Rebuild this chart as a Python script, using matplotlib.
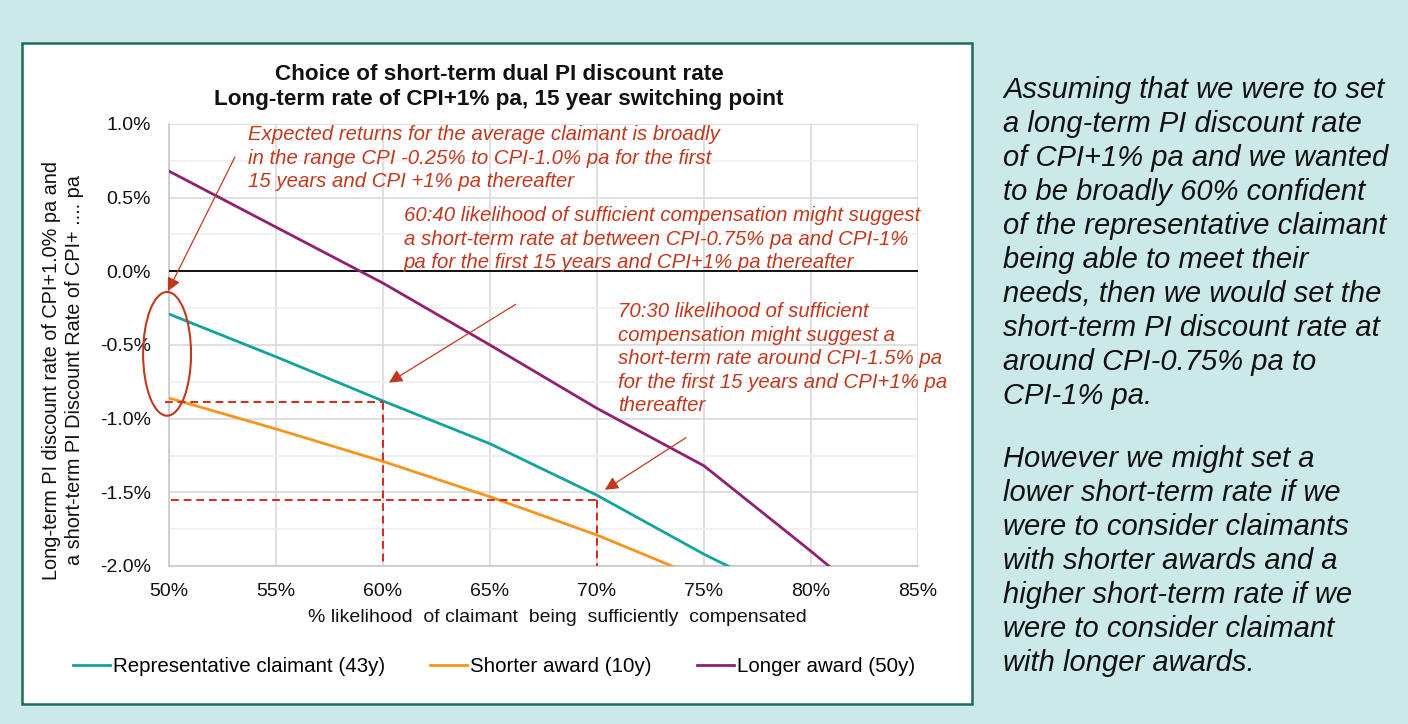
import matplotlib
matplotlib.use("Agg")
import matplotlib.pyplot as plt
from matplotlib.patches import Ellipse, Rectangle
from matplotlib.ticker import MultipleLocator, FuncFormatter

plt.rcParams['font.family'] = ['Liberation Sans', 'DejaVu Sans']

# likelihood grid (%), each series runs until it drops off the bottom of the chart
likelihood = [50, 55, 60, 65, 70, 75, 80, 85]
representative = [-0.29, -0.58, -0.88, -1.17, -1.52, -1.92, -2.28]
shorter = [-0.86, -1.07, -1.29, -1.53, -1.79, -2.09]
longer = [0.68, 0.30, -0.08, -0.50, -0.93, -1.32, -1.90, -2.50]

series_labels = ["Representative claimant (43y)", "Shorter award (10y)", "Longer award (50y)"]
series_colors = ["#14a39a", "#f7941d", "#8e2170"]

# red guide lines (60:40 and 70:30 points)
guide_60 = {"x0": 49.8, "x": 60, "y": -0.89}
guide_70 = {"x0": 50.1, "x": 70, "y": -1.55}

title = "Choice of short-term dual PI discount rate\nLong-term rate of CPI+1% pa, 15 year switching point"
ylabel = "Long-term PI discount rate of CPI+1.0% pa and\na short-term PI Discount Rate of CPI+ .... pa"
xlabel = "% likelihood  of claimant  being  sufficiently  compensated"

note_1 = ("Expected returns for the average claimant is broadly\n"
          "in the range CPI -0.25% to CPI-1.0% pa for the first\n"
          "15 years and CPI +1% pa thereafter")
note_2 = ("60:40 likelihood of sufficient compensation might suggest\n"
          "a short-term rate at between CPI-0.75% pa and CPI-1%\n"
          "pa for the first 15 years and CPI+1% pa thereafter")
note_3 = ("70:30 likelihood of sufficient\n"
          "compensation might suggest a\n"
          "short-term rate around CPI-1.5% pa\n"
          "for the first 15 years and CPI+1% pa\n"
          "thereafter")

side_para_1 = ["Assuming that we were to set", "a long-term PI discount rate",
               "of CPI+1% pa and we wanted", "to be broadly 60% confident",
               "of the representative claimant", "being able to meet their",
               "needs, then we would set the", "short-term PI discount rate at",
               "around CPI-0.75% pa to", "CPI-1% pa."]
side_para_2 = ["However we might set a", "lower short-term rate if we",
               "were to consider claimants", "with shorter awards and a",
               "higher short-term rate if we", "were to consider claimant",
               "with longer awards."]

W, H = 1408, 724
red_text = "#c0391f"
red_dash = "#d42a1e"


def px_x(px):
    # pixel column -> likelihood value
    return 50 + (px - 169) / 107 * 5


def px_y(py):
    # pixel row -> rate value
    return (271 - py) / 147


fig = plt.figure(figsize=(W / 100, H / 100), dpi=100)
fig.patch.set_facecolor("#cbe9e8")

# white chart box
fig.add_artist(Rectangle((22 / W, 1 - 704 / H), 950 / W, 661 / H, transform=fig.transFigure,
                         facecolor="white", edgecolor="#1d6b5b", lw=1.8, zorder=0))

ax = fig.add_axes([169 / W, 1 - 566 / H, 749 / W, 442 / H])
ax.set_facecolor("white")

series = [representative, shorter, longer]
for vals, lab, col in zip(series, series_labels, series_colors):
    ax.plot(likelihood[:len(vals)], vals, color=col, lw=2.0, label=lab, zorder=4)

ax.set_xlim(50, 85)
ax.set_ylim(-2.0, 1.0)
ax.xaxis.set_major_locator(MultipleLocator(5))
ax.yaxis.set_major_locator(MultipleLocator(0.5))
ax.yaxis.set_minor_locator(MultipleLocator(0.25))
ax.xaxis.set_major_formatter(FuncFormatter(lambda v, p: f"{v:.0f}%"))
ax.yaxis.set_major_formatter(FuncFormatter(lambda v, p: f"{v:.1f}%"))
ax.grid(which="major", color="#d9d9d9", lw=1.2, zorder=0)
ax.grid(which="minor", axis="y", color="#efefef", lw=1.2, zorder=0)
ax.tick_params(which="both", length=0, labelsize=14, colors="#111111")
ax.tick_params(axis="y", pad=13)
ax.tick_params(axis="x", pad=12)
for s in ["top", "right"]:
    ax.spines[s].set_visible(False)
for s in ["left", "bottom"]:
    ax.spines[s].set_color("#c8c8c8")
    ax.spines[s].set_linewidth(1.2)
ax.axhline(0, color="black", lw=1.3, zorder=3)

ax.set_xlabel(xlabel, fontsize=14, color="#111111")
ax.xaxis.set_label_coords((557 - 169) / 749, -(617 - 566) / 442)
ax.xaxis.label.set_va("center")

# dashed guide lines
for g in [guide_60, guide_70]:
    ax.plot([g["x0"], g["x"]], [g["y"], g["y"]], color=red_dash, lw=1.4, ls=(0, (4, 2.5)), zorder=5, clip_on=False)
    ax.plot([g["x"], g["x"]], [g["y"], -2.0], color=red_dash, lw=1.4, ls=(0, (4, 2.5)), zorder=5)

# ellipse round the 50% values
ax.add_patch(Ellipse((49.91, -0.56), 2.24, 0.84, fill=False, edgecolor=red_text, lw=1.5, zorder=6, clip_on=False))

arrow_kw = dict(arrowstyle="-|>", color=red_text, lw=0.9, mutation_scale=20, shrinkA=0, shrinkB=0)
ax.annotate("", xy=(49.95, -0.135), xytext=(53.08, 0.776), arrowprops=arrow_kw, zorder=6, annotation_clip=False)
ax.annotate("", xy=(60.28, -0.755), xytext=(66.2, -0.224), arrowprops=arrow_kw, zorder=6)
ax.annotate("", xy=(70.37, -1.483), xytext=(74.16, -1.129), arrowprops=arrow_kw, zorder=6)

note_kw = dict(color=red_text, fontsize=14.7, style="italic", ha="left", va="top", linespacing=1.3, zorder=7)
ax.text(px_x(248), px_y(125), note_1, **note_kw)
ax.text(px_x(404), px_y(206), note_2, **note_kw)
ax.text(px_x(618), px_y(302), note_3, **note_kw)

# titles
fig.text(499 / W, 1 - 87 / H, title, ha="center", va="center", fontsize=16.2, fontweight="bold",
         linespacing=1.2, color="#111111")
fig.text(63 / W, 1 - 370 / H, ylabel, ha="center", va="center", rotation=90, fontsize=14.3,
         linespacing=1.3, color="#111111", multialignment="center")

ax.legend(loc="center", bbox_to_anchor=(494 / W, 1 - 667 / H), bbox_transform=fig.transFigure,
          ncol=3, frameon=False, fontsize=14.8, handlelength=1.8, handletextpad=0.15,
          columnspacing=2.2)

# commentary on the right
for i, line in enumerate(side_para_1):
    fig.text(1003 / W, 1 - (98 + i * 34) / H, line, fontsize=21, style="italic", va="baseline", color="#111111")
for i, line in enumerate(side_para_2):
    fig.text(1003 / W, 1 - (467 + i * 34) / H, line, fontsize=21, style="italic", va="baseline", color="#111111")

plt.savefig("out.png", dpi=100, facecolor=fig.get_facecolor())
